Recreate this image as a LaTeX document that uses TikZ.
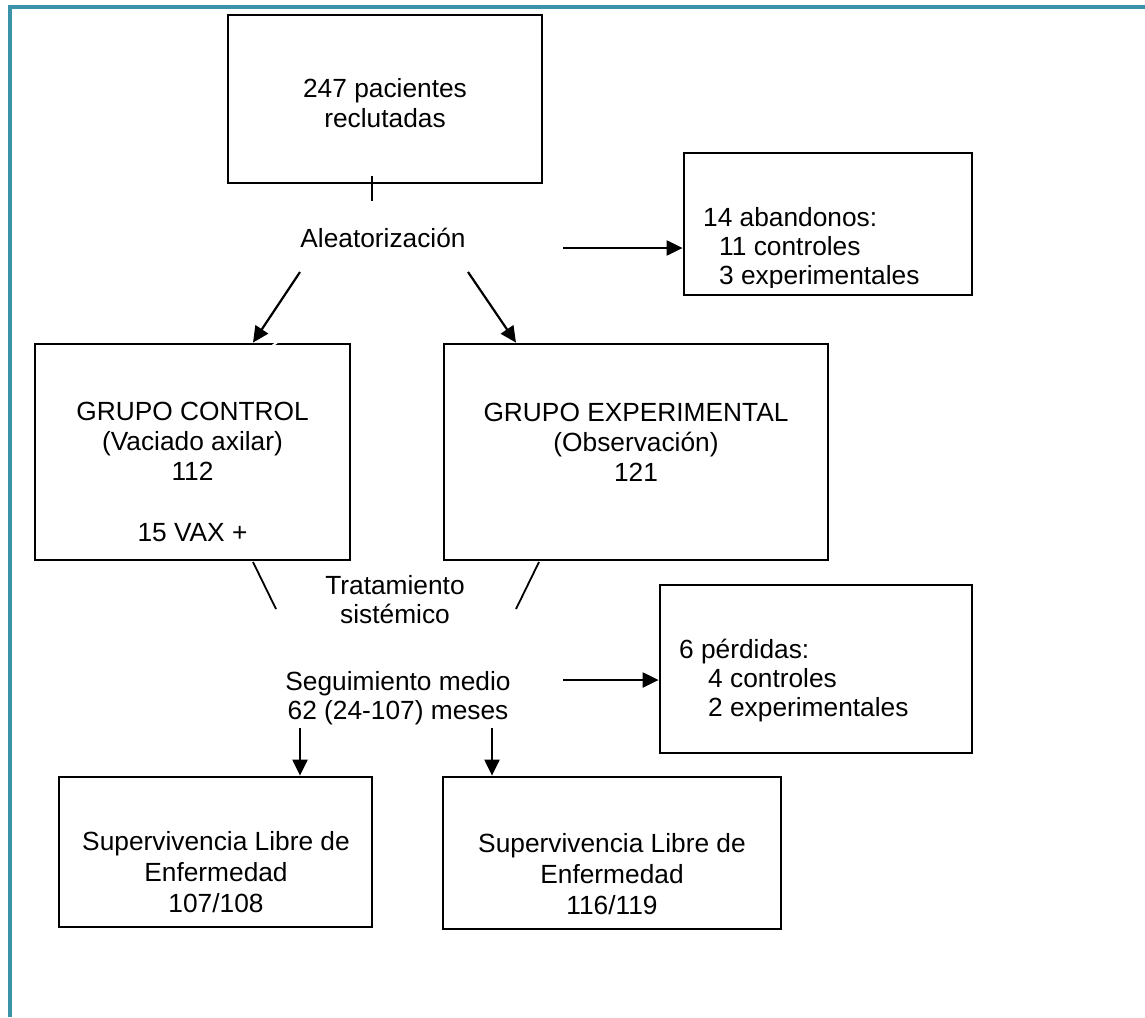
\documentclass[tikz,border=0pt]{standalone}
\usepackage{fontspec}
\setmainfont{Liberation Sans}
\usetikzlibrary{arrows.meta}
\definecolor{frameteal}{HTML}{3A93A8}
\begin{document}
\begin{tikzpicture}[x=1pt,y=-1pt,
  box/.style={draw,line width=2.8pt,inner sep=0pt},
  txt/.style={font=\fontsize{26.3}{30}\selectfont, inner sep=0pt, anchor=base},
  txtl/.style={txt, anchor=base west},
  arr/.style={line width=2.2pt, -{Triangle[length=16pt,width=15pt]}},
  thinline/.style={line width=1.8pt}]
\useasboundingbox (0,0) rectangle (1145,1017);
\draw[frameteal, line width=4pt] (10,1017) -- (10,7) -- (1145,7);

% boxes
\node[box, minimum width=314pt, minimum height=168pt] (rec) at (385,99) {};
\node[box, minimum width=315pt, minimum height=216pt] (ctrl) at (192.5,452) {};
\node[box, minimum width=384pt, minimum height=216pt] (expe) at (636,452) {};
\node[box, minimum width=312pt, minimum height=168pt] (perd) at (816,669) {};
\node[box, minimum width=313pt, minimum height=150pt] (slL) at (215.5,852) {};
\node[box, minimum width=338pt, minimum height=152pt] (slR) at (612,853) {};

% small white nick on control box top edge
\draw[white, line width=2pt] (272,346) -- (279,341);

% texts
\node[txt] (t1a) at (385,97) {247 pacientes};
\node[txt] (t1b) at (385,127) {reclutadas};
\node[txt] (alea) at (383,247) {Aleatorización};

\begin{scope}
\clip (684,150) rectangle (972,287);
\node[txtl] (ab1) at (703,226) {14 abandonos:};
\node[txtl] (ab2) at (719,255) {11 controles};
\node[txtl] (ab3) at (719,284) {3 experimentales};
\end{scope}
\node[box, minimum width=288pt, minimum height=142pt] (aband) at (828,224) {};

\node[txt] (c1) at (192.5,420) {GRUPO CONTROL};
\node[txt] (c2) at (192.5,450) {(Vaciado axilar)};
\node[txt] (c3) at (192.5,480) {112};
\node[txt] (c4) at (192.5,541) {15 VAX +};

\node[txt] (e1) at (636,421) {GRUPO EXPERIMENTAL};
\node[txt] (e2) at (636,451) {(Observación)};
\node[txt] (e3) at (636,481) {121};

\node[txt] (tr1) at (395,594) {Tratamiento};
\node[txt] (tr2) at (395,623) {sistémico};

\node[txt] (sg1) at (398,690) {Seguimiento medio};
\node[txt] (sg2) at (398,719) {62 (24-107) meses};

\node[txtl] (p1) at (679,658) {6 pérdidas:};
\node[txtl] (p2) at (708,687) {4 controles};
\node[txtl] (p3) at (708,716) {2 experimentales};

\node[txt] (l1) at (216,850) {Supervivencia Libre de};
\node[txt] (l2) at (216,881) {Enfermedad};
\node[txt] (l3) at (216,912) {107/108};

\node[txt] (r1) at (612,852) {Supervivencia Libre de};
\node[txt] (r2) at (612,883) {Enfermedad};
\node[txt] (r3) at (612,914) {116/119};

% connectors
\coordinate (tickA) at (372,176);
\coordinate (tickB) at (372,201);
\draw[thinline] (tickA) -- (tickB);

\coordinate (aL) at (300,272);
\coordinate (tipL) at (253,0);
\coordinate (aR) at (468,272);
\coordinate (tipR) at (516,0);
\draw[arr] (aL) -- (ctrl.north -| tipL);
\draw[arr] (aR) -- (expe.north -| tipR);

\coordinate (abS) at (563,248);
\draw[arr] (abS) -- (aband.west |- abS);

\coordinate (sL1) at (253,562);
\coordinate (sL2) at (276,609);
\coordinate (sR1) at (539,562);
\coordinate (sR2) at (516,609);
\draw[thinline] (sL1) -- (sL2);
\draw[thinline] (sR1) -- (sR2);

\coordinate (peS) at (563,680);
\draw[arr] (peS) -- (perd.west |- peS);

\coordinate (dL) at (300,728);
\coordinate (dR) at (492,728);
\draw[arr] (dL) -- (slL.north -| dL);
\draw[arr] (dR) -- (slR.north -| dR);
\end{tikzpicture}
\end{document}
